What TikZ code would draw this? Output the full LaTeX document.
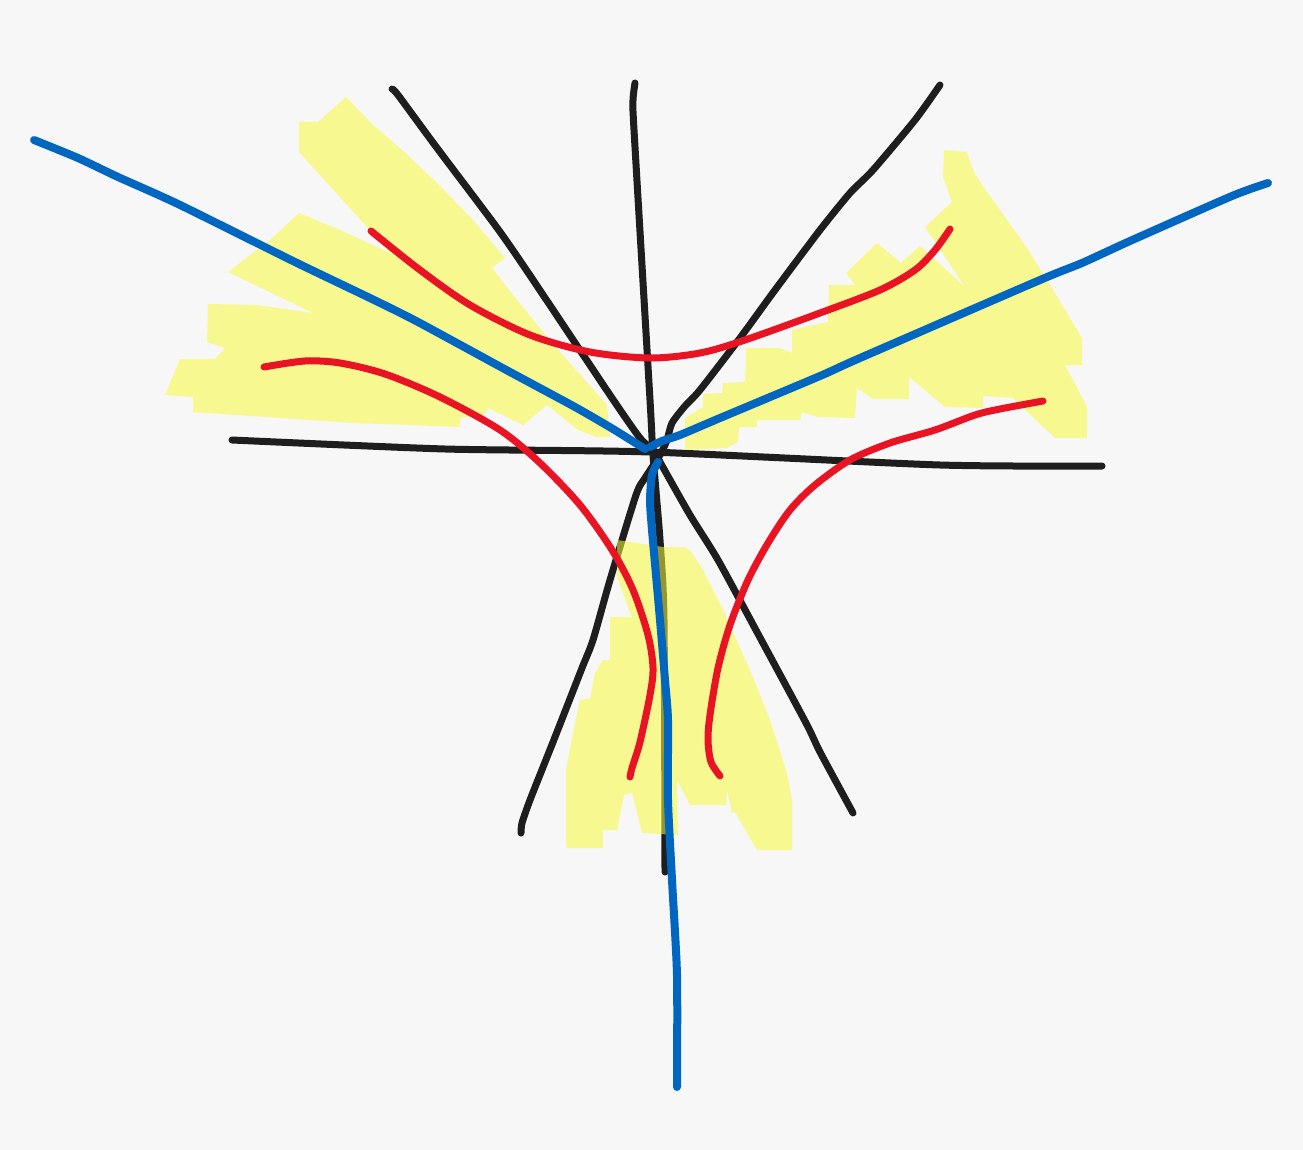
\documentclass[tikz,border=0pt]{standalone}
\definecolor{bgcol}{RGB}{247,247,247}
\definecolor{blackink}{RGB}{30,30,30}
\definecolor{blueink}{RGB}{0,102,192}
\definecolor{redink}{RGB}{232,20,36}
\definecolor{yellowink}{RGB}{250,250,62}
\begin{document}
\begin{tikzpicture}[x=1pt,y=-1pt,
  inkblack/.style={draw=blackink,line width=7pt,line cap=round,line join=round},
  inkblue/.style={draw=blueink,line width=8pt,line cap=round,line join=round},
  inkred/.style={draw=redink,line width=7pt,line cap=round,line join=round},
  hilite/.style={fill=yellowink,fill opacity=0.55,draw=none}]
\fill[bgcol] (0,0) rectangle (1303,1150);
\useasboundingbox (0,0) rectangle (1303,1150);
% black lines
\draw[inkblack] plot[smooth,tension=0.4] coordinates {(232,440) (445,449) (650,452) (940,465) (1102,466)};
\draw[inkblack] plot[smooth,tension=0.4] coordinates {(392,89) (398,95) (437,148) (495,225) (525,268) (612,398) (640,438) (655,452) (660,462) (690,515) (718,560) (757,632) (806,723) (820,752) (853,813)};
\draw[inkblack] plot[smooth,tension=0.4] coordinates {(635,83) (633,100) (634,130) (650,400) (653,455) (660,540) (664,620) (665,872)};
\draw[inkblack] plot[smooth,tension=0.4] coordinates {(940,85) (915,120) (873,170) (850,193) (820,230) (775,290) (740,338) (700,390) (685,406) (672,423) (667,440) (660,455) (645,478) (636,495) (610,580) (593,640) (582,668) (555,737) (530,800) (522,823) (521,833)};
% yellow highlights
\path[hilite] (299,122) -- (318,122) -- (346,97) -- (373,125) -- (400,148) -- (437,183) -- (473,220) -- (505,258) -- (492,268) -- (513,295) -- (547,337) -- (560,352) -- (607,405) -- (610,437) -- (597,437) -- (578,430) -- (547,405) -- (523,425) -- (488,408) -- (483,415) -- (460,418) -- (460,427) -- (353,423) -- (193,412) -- (193,397) -- (165,395) -- (180,359) -- (215,359) -- (225,348) -- (207,342) -- (208,304) -- (257,305) -- (313,313) -- (228,272) -- (270,240) -- (299,213) -- (340,230) -- (390,253) -- (367,227) -- (299,152) -- cycle;
\path[hilite] (944,150) -- (967,152) -- (972,168) -- (980,182) -- (1027,248) -- (1053,290) -- (1082,338) -- (1082,365) -- (1065,365) -- (1087,407) -- (1087,438) -- (1055,438) -- (1013,398) -- (983,396) -- (983,408) -- (945,407) -- (909,377) -- (909,399) -- (873,399) -- (857,388) -- (855,418) -- (817,417) -- (802,412) -- (800,420) -- (757,420) -- (757,427) -- (739,427) -- (738,442) -- (727,448) -- (685,450) -- (685,418) -- (703,407) -- (703,394) -- (722,393) -- (723,383) -- (745,382) -- (746,348) -- (780,348) -- (792,353) -- (792,330) -- (828,322) -- (829,285) -- (855,285) -- (846,273) -- (877,243) -- (901,263) -- (920,246) -- (965,287) -- (925,227) -- (952,202) -- (943,177) -- cycle;
\path[hilite] (617,540) -- (663,547) -- (683,547) -- (690,550) -- (703,570) -- (723,610) -- (750,670) -- (770,720) -- (787,773) -- (792,800) -- (792,850) -- (757,850) -- (747,833) -- (735,812) -- (732,813) -- (727,790) -- (726,805) -- (690,805) -- (677,780) -- (678,835) -- (642,833) -- (632,793) -- (624,795) -- (617,830) -- (603,830) -- (603,848) -- (567,848) -- (566,843) -- (566,770) -- (573,733) -- (580,700) -- (590,698) -- (595,673) -- (603,660) -- (610,660) -- (610,617) -- (632,617) -- (617,577) -- cycle;
% blue lines
\draw[inkblue] plot[smooth,tension=0.4] coordinates {(34,140) (78,158) (118,177) (178,204) (295,262) (372,299) (418,322) (510,372) (575,407) (613,429) (645,449)};
\draw[inkblue] plot[smooth,tension=0.4] coordinates {(1268,183) (1232,196) (1130,241) (1082,263) (1040,280) (860,358) (820,376) (720,418) (680,435) (662,441) (650,447)};
\draw[inkblue] plot[smooth,tension=0.4] coordinates {(658,462) (652,475) (650,500) (652,530) (660,620) (665,680) (668,720) (668,800) (672,880) (677,975) (677,1087)};
% red lines
\draw[inkred] plot[smooth,tension=0.5] coordinates {(371,231) (420,270) (470,305) (530,335) (590,352) (650,358) (700,353) (745,340) (820,313) (880,290) (915,270) (935,250) (950,229)};
\draw[inkred] plot[smooth,tension=0.5] coordinates {(264,367) (305,361) (340,363) (385,374) (440,397) (500,430) (540,463) (580,505) (612,550) (633,590) (648,635) (653,668) (650,695) (640,742) (632,768) (630,777)};
\draw[inkred] plot[smooth,tension=0.5] coordinates {(1043,401) (1000,409) (975,415) (935,430) (890,443) (850,460) (815,485) (790,510) (768,543) (748,580) (730,625) (718,668) (710,715) (708,740) (711,762) (720,776)};
\end{tikzpicture}
\end{document}
